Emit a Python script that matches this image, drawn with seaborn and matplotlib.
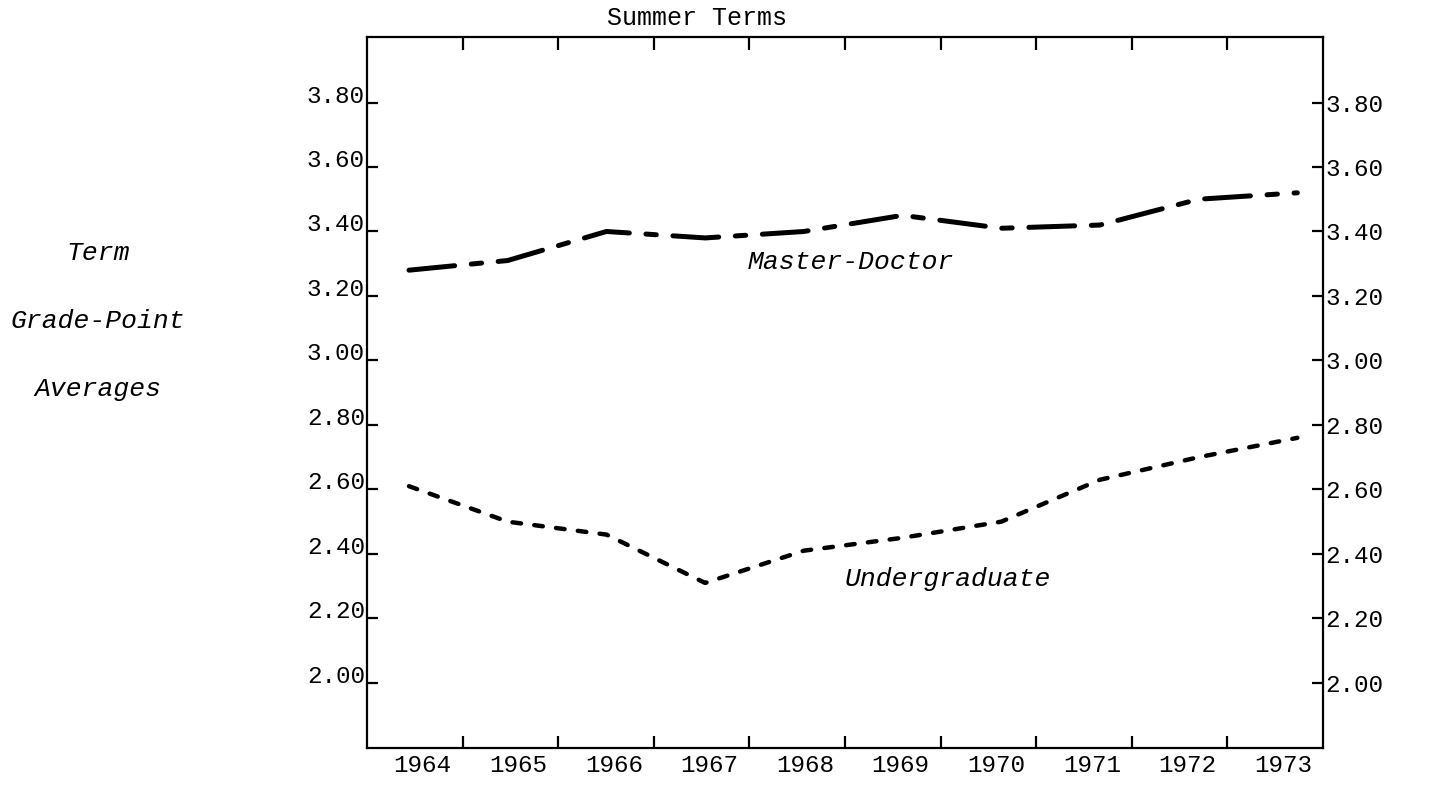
import numpy as np
import pandas as pd
import matplotlib
matplotlib.use("Agg")
import matplotlib.pyplot as plt
import seaborn as sns

# summer term grade-point averages
years = [1964, 1965, 1966, 1967, 1968, 1969, 1970, 1971, 1972, 1973]
master_doctor = [3.28, 3.31, 3.40, 3.38, 3.40, 3.45, 3.41, 3.42, 3.50, 3.52]
undergrad = [2.61, 2.50, 2.46, 2.31, 2.41, 2.45, 2.50, 2.63, 2.70, 2.76]
year_labels = [str(y) for y in years]
gpa_ticks = [2.00, 2.20, 2.40, 2.60, 2.80, 3.00, 3.20, 3.40, 3.60, 3.80]
gpa_labels = ["%.2f" % v for v in gpa_ticks]

df = pd.DataFrame({"Year": years, "MasterDoctor": master_doctor, "Undergraduate": undergrad})

sns.set_theme(style="ticks")
plt.rcParams["font.family"] = ["Liberation Mono", "DejaVu Sans Mono"]
plt.rcParams["text.color"] = "black"
plt.rcParams["lines.scale_dashes"] = False

fig = plt.figure(figsize=(14.37, 7.85), dpi=100)
ax = fig.add_axes([0.2554, 0.0471, 0.6653, 0.9057])

sns.lineplot(data=df, x="Year", y="MasterDoctor", ax=ax, color="black", lw=3.6,
             linestyle=(0, (33, 12, 7.5, 12)), dash_capstyle="round")
sns.lineplot(data=df, x="Year", y="Undergraduate", ax=ax, color="black", lw=3.2,
             linestyle=(0, (6.2, 9.6)), dash_capstyle="round")

xlo, xhi = 1963.5745, 1973.2604
ax.set_xlim(xlo, xhi)
ax.set_ylim(1.798, 4.003)

# year labels sit between the tick marks
edges = np.linspace(xlo, xhi, 11)
ax.set_xticks(edges[1:-1])
ax.set_xticklabels([])
ax.set_xticks((edges[:-1] + edges[1:]) / 2 + 0.08, minor=True)
ax.set_xticklabels(year_labels, minor=True, fontsize=17.5)
ax.tick_params(axis="x", which="major", direction="in", length=9, width=1.6,
               top=True, bottom=True, color="black")
ax.tick_params(axis="x", which="minor", length=0, pad=4, labelcolor="black")

ax.set_yticks(gpa_ticks)
ax.set_yticklabels(gpa_labels, fontsize=17.5)
ax.tick_params(axis="y", direction="in", length=8, width=1.6, left=True, right=True,
               labelleft=True, labelright=True, pad=1.5, color="black", labelcolor="black")
for t in ax.yaxis.get_major_ticks():
    t.label1.set_verticalalignment("baseline")

for s in ax.spines.values():
    s.set_visible(True)
    s.set_color("black")
    s.set_linewidth(1.6)

ax.set_xlabel("")
ax.set_ylabel("")

ax.text(1968.48, 3.305, "Master-Doctor", style="italic", fontsize=19,
        ha="center", va="center", color="black")
ax.text(1969.46, 2.322, "Undergraduate", style="italic", fontsize=19,
        ha="center", va="center", color="black")

fig.text(0.485, 0.977, "Summer Terms", fontsize=18, ha="center", va="center")
fig.text(0.068, 0.678, "Term", style="italic", fontsize=19, ha="center", va="center")
fig.text(0.068, 0.591, "Grade-Point", style="italic", fontsize=19, ha="center", va="center")
fig.text(0.068, 0.504, "Averages", style="italic", fontsize=19, ha="center", va="center")

fig.savefig("out.png", dpi=100, facecolor="white")
